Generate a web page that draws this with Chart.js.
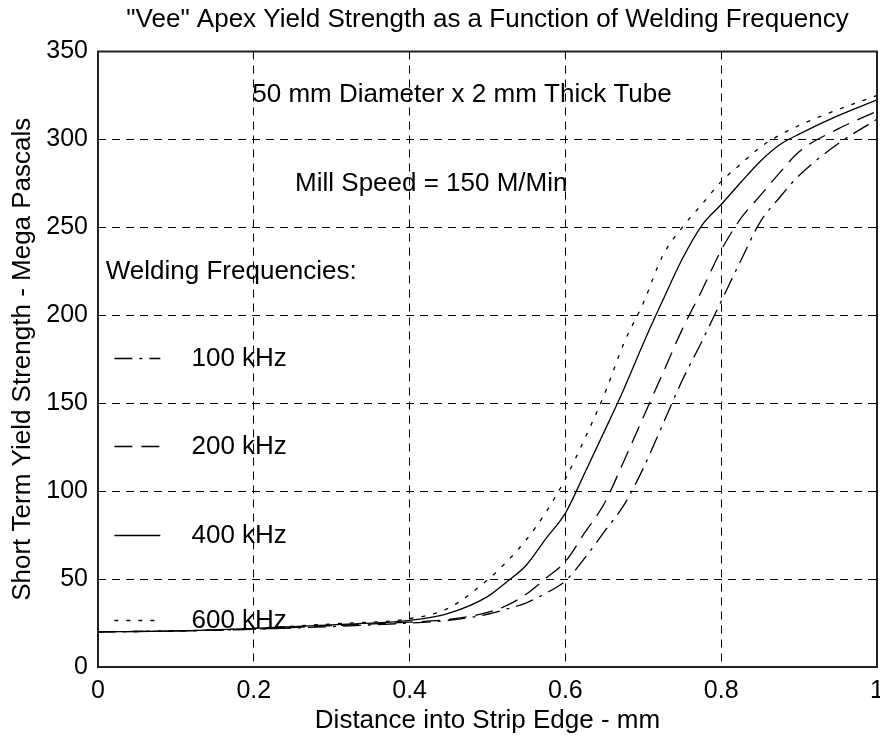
<!DOCTYPE html>
<html>
<head>
<meta charset="utf-8">
<script src="https://cdn.jsdelivr.net/npm/chart.js@4.4.1/dist/chart.umd.min.js"></script>
<style>
    html, body { margin: 0; padding: 0; background: #fff; }
    #chart { display: block; }
</style>
</head>
<body>
<canvas id="chart" width="880" height="742"></canvas>
<script>
// distance into strip edge (mm), shared by every curve
const distance = [0, 0.1, 0.2, 0.3, 0.4, 0.45, 0.5, 0.525, 0.55, 0.575, 0.6, 0.625, 0.65, 0.675, 0.7, 0.725, 0.75, 0.775, 0.8, 0.825, 0.85, 0.875, 0.9, 0.95, 1.0];

// yield strength (MPa) for each welding frequency
const yield600 = [20, 20.5, 22, 24.5, 27.5, 33.5, 49.5, 60, 72.5, 88, 107, 130, 155, 184, 207, 234, 250, 263, 276, 286, 295.5, 302.5, 308, 317, 325];
const yield400 = [20, 20.5, 22, 24, 26.5, 30.5, 40, 48.5, 58, 73, 87.5, 110.5, 134, 158, 184, 208.5, 232, 251, 263, 275.5, 287.5, 297, 303, 313.5, 322.5];
const yield200 = [20, 20.5, 21.5, 23.5, 25.5, 27, 31, 35, 41.5, 50.5, 60, 76.5, 93, 117, 142, 167, 192, 214, 237, 255, 268, 281, 293, 306, 316];
const yield100 = [20, 20.5, 21.5, 23, 25, 26.5, 30, 33, 36.5, 42, 49, 62, 77, 92, 113, 138, 163, 185, 208, 231, 253, 267, 279.5, 297.5, 311.5];

const seriesNames = ['100 kHz', '200 kHz', '400 kHz', '600 kHz'];
const xTickLabels = ['0', '0.2', '0.4', '0.6', '0.8', '1'];
const yTickLabels = ['0', '50', '100', '150', '200', '250', '300', '350'];

const FONT = "'Liberation Sans', Arial, sans-serif";
const TITLE = '"Vee" Apex Yield Strength as a Function of Welding Frequency';

// line styles like the old plot: dash-dot, dashed, solid, dotted
const dashes = {
    '100 kHz': [18, 7, 3, 7],
    '200 kHz': [18, 9],
    '400 kHz': [],
    '600 kHz': [4, 8]
};

function points(ys) {
    return distance.map((d, i) => ({ x: d, y: ys[i] }));
}

const seriesData = {
    '100 kHz': yield100,
    '200 kHz': yield200,
    '400 kHz': yield400,
    '600 kHz': yield600
};

// notes written inside the plot (data coordinates, left aligned)
const notes = [
    { text: '50 mm Diameter x 2 mm Thick Tube', x: 0.198, y: 325.5 },
    { text: 'Mill Speed = 150 M/Min', x: 0.253, y: 275 },
    { text: 'Welding Frequencies:', x: 0.01, y: 224.5 }
];
const legendRows = [
    { name: '100 kHz', y: 175.5 },
    { name: '200 kHz', y: 125.5 },
    { name: '400 kHz', y: 75 },
    { name: '600 kHz', y: 26.7 }
];

// box round the plot + title centred over the plot area
const framePlugin = {
    id: 'frame',
    afterDraw(chart) {
        const a = chart.chartArea;
        const ctx = chart.ctx;
        ctx.save();
        ctx.strokeStyle = '#222';
        ctx.lineWidth = 2;
        ctx.setLineDash([]);
        ctx.strokeRect(a.left, a.top, a.right - a.left, a.bottom - a.top);

        ctx.fillStyle = '#000';
        ctx.font = '26px ' + FONT;
        ctx.textAlign = 'center';
        ctx.textBaseline = 'middle';
        ctx.fillText(TITLE, (a.left + a.right) / 2, 20);
        ctx.restore();
    }
};

const notesPlugin = {
    id: 'notes',
    afterDatasetsDraw(chart) {
        const ctx = chart.ctx;
        const xs = chart.scales.x;
        const ys = chart.scales.y;
        ctx.save();
        ctx.fillStyle = '#000';
        ctx.font = '26px ' + FONT;
        ctx.textAlign = 'left';
        ctx.textBaseline = 'middle';
        notes.forEach(n => {
            ctx.fillText(n.text, xs.getPixelForValue(n.x), ys.getPixelForValue(n.y));
        });
        legendRows.forEach(r => {
            const py = Math.round(ys.getPixelForValue(r.y)) + 0.5;
            ctx.beginPath();
            ctx.setLineDash(dashes[r.name]);
            ctx.strokeStyle = '#000';
            ctx.lineWidth = 1.3;
            ctx.moveTo(xs.getPixelForValue(0.021), py);
            ctx.lineTo(xs.getPixelForValue(0.08), py);
            ctx.stroke();
            ctx.setLineDash([]);
            ctx.fillText(r.name, xs.getPixelForValue(0.12), py);
        });
        ctx.restore();
    }
};

// draw order: 600 first, 100 last
const datasets = seriesNames.slice().reverse().map(name => ({
    label: name,
    data: points(seriesData[name]),
    borderColor: '#000',
    borderWidth: 1.3,
    borderDash: dashes[name],
    pointRadius: 0,
    fill: false,
    cubicInterpolationMode: 'monotone'
}));

new Chart(document.getElementById('chart'), {
    type: 'line',
    data: { datasets: datasets },
    options: {
        responsive: false,
        animation: false,
        devicePixelRatio: 1,
        layout: { padding: { left: 0, right: 3, top: 51.5, bottom: 0 } },
        plugins: {
            legend: { display: false },
            tooltip: { enabled: false },
            title: { display: false }
        },
        scales: {
            x: {
                type: 'linear',
                min: 0,
                max: 1,
                afterFit(scale) {
                    scale.height = 75;
                    scale.paddingLeft = 0;
                    scale.paddingRight = 0;
                },
                ticks: {
                    stepSize: 0.2,
                    color: '#000',
                    padding: 9,
                    maxRotation: 0,
                    font: { family: FONT, size: 25 },
                    callback: (v, i) => xTickLabels[i]
                },
                grid: { color: '#000', lineWidth: 1, drawTicks: false },
                border: { display: false, dash: [8, 6] },
                title: {
                    display: true,
                    text: 'Distance into Strip Edge - mm',
                    color: '#000',
                    font: { family: FONT, size: 26 },
                    padding: 6
                }
            },
            y: {
                min: 0,
                max: 350,
                afterFit(scale) {
                    scale.width = 98;
                    scale.paddingTop = 0;
                    scale.paddingBottom = 0;
                },
                ticks: {
                    stepSize: 50,
                    color: '#000',
                    padding: 10,
                    font: { family: FONT, size: 25 },
                    callback: (v, i) => yTickLabels[i]
                },
                grid: { color: '#000', lineWidth: 1, drawTicks: false },
                border: { display: false, dash: [8, 6] },
                title: {
                    display: true,
                    text: 'Short Term Yield Strength - Mega Pascals',
                    color: '#000',
                    font: { family: FONT, size: 26 },
                    padding: 7
                }
            }
        }
    },
    plugins: [framePlugin, notesPlugin]
});
</script>
</body>
</html>
